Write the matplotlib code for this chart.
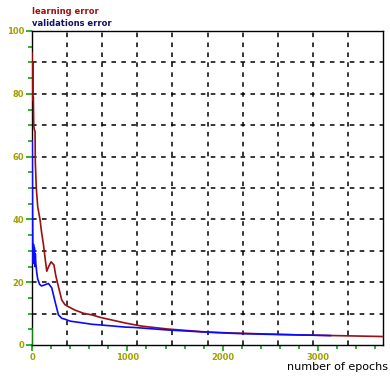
import matplotlib
matplotlib.use("Agg")
import matplotlib.pyplot as plt
from matplotlib.ticker import MultipleLocator, FixedLocator

# ---- data ----
learn_epochs = [0, 5, 8, 10, 14, 18, 25, 32, 35, 45, 60, 84, 100, 120, 140, 155,
                175, 200, 230, 250, 277, 312, 347, 382, 452, 540, 627, 715, 978,
                1153, 1420, 1840, 2115, 2470, 2820, 3165, 3680]
learn_error = [93, 80, 90, 78, 79, 70, 68.5, 68, 58, 50, 44, 40, 36, 32, 27, 23.5,
               25, 26.5, 25.5, 22, 18.6, 14.3, 12.8, 12.2, 11.1, 10.1, 9.6, 8.8, 7.0,
               6.0, 5.1, 4.1, 3.8, 3.5, 3.2, 3.0, 2.7]

valid_epochs = [2, 5, 8, 12, 16, 20, 25, 30, 35, 40, 50, 60, 80, 100, 137, 172,
                207, 242, 277, 312, 347, 400, 540, 627, 715, 978, 1065, 1416,
                1767, 2115, 2470, 2818, 3130]
valid_error = [65, 45, 33, 26, 32, 27, 31, 25, 29, 26, 23, 21, 19.3, 18.8, 19.2, 19.6,
               18.2, 13.8, 9.6, 8.5, 8.2, 7.6, 7.0, 6.6, 6.4, 5.7, 5.6, 4.8,
               4.2, 3.7, 3.4, 3.2, 3.0]

test_epochs = [3, 3]
test_error = [0, 5]

x_max = 3680
y_max = 100
x_major = [0, 1000, 2000, 3000]
y_major = [0, 20, 40, 60, 80, 100]

# ---- figure ----
fig = plt.figure(figsize=(3.9, 3.76), dpi=100)
ax = fig.add_axes([32/390, 1-345/376, 351/390, 314/376])
ax.set_xlim(0, x_max)
ax.set_ylim(0, y_max)

# dashed grid: 10 divisions each way
for i in range(1, 10):
    ax.axvline(x_max * i / 10, color='black', lw=1.1, ls=(0, (3, 3.5)), zorder=1)
    ax.axhline(y_max * i / 10, color='black', lw=1.1, ls=(0, (3, 3.5)), zorder=1)

ax.plot(learn_epochs, learn_error, color='#9b1010', lw=1.2, zorder=3)
ax.plot(valid_epochs, valid_error, color='#0a0aff', lw=1.2, zorder=4)
ax.plot(test_epochs, test_error, color='#10a010', lw=1.2, zorder=5)

for s in ax.spines.values():
    s.set_color('black')
    s.set_linewidth(1.0)

tick_col = '#10a010'
lab_col = '#a0a000'
ax.xaxis.set_major_locator(FixedLocator(x_major))
ax.xaxis.set_minor_locator(MultipleLocator(200))
ax.yaxis.set_major_locator(FixedLocator(y_major))
ax.yaxis.set_minor_locator(MultipleLocator(5))
ax.tick_params(which='both', direction='out', color=tick_col, width=1.2,
               labelcolor=lab_col, labelsize=6, pad=1.5)
ax.tick_params(which='major', length=4)
ax.tick_params(which='minor', length=3)
for lbl in ax.get_xticklabels() + ax.get_yticklabels():
    lbl.set_fontweight('bold')

fig.text(32/390, 1-12/376, 'learning error', color='#a01010', fontsize=6,
         fontweight='bold', va='center', ha='left')
fig.text(32/390, 1-24/376, 'validations error', color='#10106a', fontsize=6,
         fontweight='bold', va='center', ha='left')
fig.text(388/390, 1-367/376, 'number of epochs', color='black', fontsize=8,
         va='center', ha='right')

fig.savefig('out.png', dpi=100)
